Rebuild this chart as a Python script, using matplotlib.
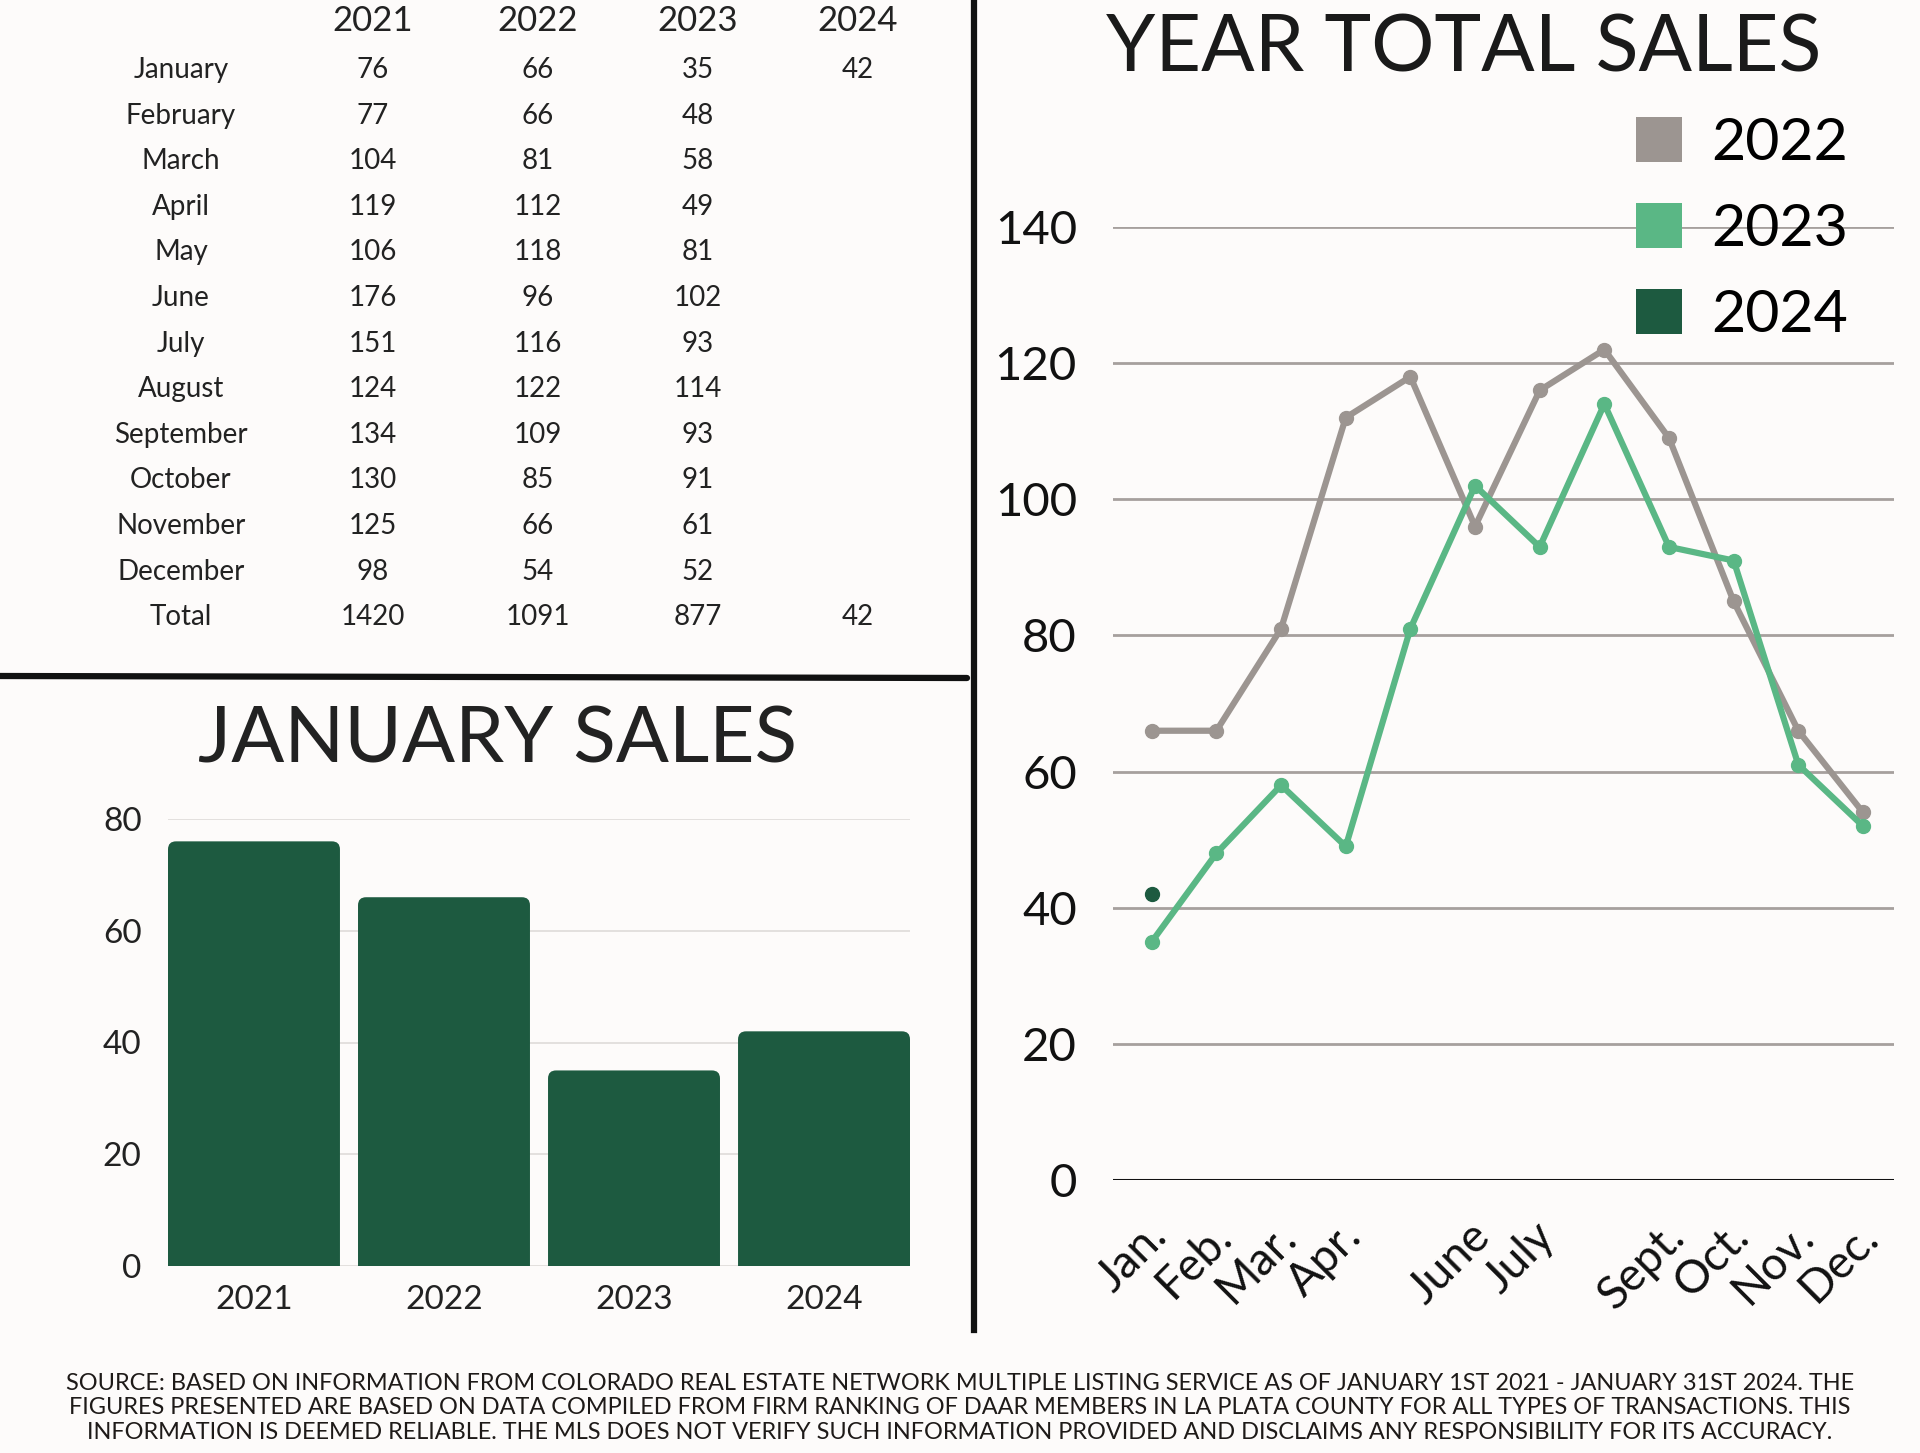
import numpy as np
import matplotlib.pyplot as plt
from matplotlib.lines import Line2D
from matplotlib.patches import Patch, FancyBboxPatch

plt.rcParams['font.family'] = ['Lato', 'DejaVu Sans']

months = ['January', 'February', 'March', 'April', 'May', 'June', 'July',
          'August', 'September', 'October', 'November', 'December']
years = ['2021', '2022', '2023', '2024']
sales_2021 = [76, 77, 104, 119, 106, 176, 151, 124, 134, 130, 125, 98]
sales_2022 = [66, 66, 81, 112, 118, 96, 116, 122, 109, 85, 66, 54]
sales_2023 = [35, 48, 58, 49, 81, 102, 93, 114, 93, 91, 61, 52]
sales_2024 = [42]
totals = [1420, 1091, 877, 42]
jan_sales = [76, 66, 35, 42]
short_months = ['Jan.', 'Feb.', 'Mar.', 'Apr.', '', 'June', 'July',
                '', 'Sept.', 'Oct.', 'Nov.', 'Dec.']

footer = ("SOURCE: BASED ON INFORMATION FROM COLORADO REAL ESTATE NETWORK MULTIPLE LISTING SERVICE AS OF JANUARY 1ST 2021 - JANUARY 31ST 2024. THE\n"
          "FIGURES PRESENTED ARE BASED ON DATA COMPILED FROM FIRM RANKING OF DAAR MEMBERS IN LA PLATA COUNTY FOR ALL TYPES OF TRANSACTIONS. THIS\n"
          "INFORMATION IS DEEMED RELIABLE. THE MLS DOES NOT VERIFY SUCH INFORMATION PROVIDED AND DISCLAIMS ANY RESPONSIBILITY FOR ITS ACCURACY.")

bg = '#fdfbfa'
gray = '#9c9591'
green = '#5ab785'
dark = '#1d5a40'

W, H = 1920, 1453
fig = plt.figure(figsize=(19.2, 14.53), dpi=100, facecolor=bg)

def fx(px):
    return px / W

def fy(py):
    return 1 - py / H

# table
col_x = [373, 538, 698, 858]
for yr, cx in zip(years, col_x):
    fig.text(fx(cx), fy(21), yr, ha='center', va='center', fontsize=25, color='#222')
cols = [sales_2021, sales_2022, sales_2023, sales_2024]
row_labels = months + ['Total']
for i, lab in enumerate(row_labels):
    ry = 70 + i * 45.6
    fig.text(fx(181), fy(ry), lab, ha='center', va='center', fontsize=20, color='#222')
    for j, cx in enumerate(col_x):
        if i < 12:
            if i < len(cols[j]):
                fig.text(fx(cx), fy(ry), str(cols[j][i]), ha='center', va='center',
                         fontsize=20, color='#222')
        else:
            fig.text(fx(cx), fy(ry), str(totals[j]), ha='center', va='center',
                     fontsize=20, color='#222')

# dividers
fig.add_artist(Line2D([fx(974), fx(974)], [1, fy(1330)], color='#111', lw=4.5))
fig.add_artist(Line2D([0, fx(967)], [fy(676), fy(678)], color='#111', lw=4.5,
                      solid_capstyle='round'))

# january bar chart
fig.text(fx(498), fy(741), 'JANUARY SALES', ha='center', va='center', fontsize=56.5, color='#222')
ax1 = fig.add_axes([fx(168), fy(1266), fx(910 - 168), (1266 - 819) / H])
ax1.set_facecolor(bg)
x = np.arange(len(years))
bars = ax1.bar(x, jan_sales, width=0.905, color=dark, zorder=3)
ax1.set_xlim(-0.4525, 3.4525)
ax1.set_ylim(0, 80)
# rounded tops like the original
xpp = 3.905 / (910 - 168)
ypp = 80 / (1266 - 819)
for b in bars:
    b.set_visible(False)
    ax1.add_patch(FancyBboxPatch((b.get_x(), -10 * ypp), b.get_width(), b.get_height() + 10 * ypp,
                                 boxstyle='round,pad=0,rounding_size=%f' % (8 * xpp),
                                 mutation_aspect=ypp / xpp, facecolor=dark, edgecolor='none',
                                 zorder=3, clip_on=True))
ax1.set_yticks([0, 20, 40, 60, 80])
ax1.set_xticks(x)
ax1.set_xticklabels(years)
ax1.yaxis.grid(True, color='#dedbd9', lw=1.2, zorder=0)
for s in ax1.spines.values():
    s.set_visible(False)
ax1.tick_params(axis='both', length=0, labelsize=24, colors='#222')
ax1.tick_params(axis='y', pad=19)
ax1.tick_params(axis='x', pad=14)

# year total line chart
fig.text(fx(1464), fy(49), 'YEAR TOTAL SALES', ha='center', va='center', fontsize=57, color='#1a1a1a')
ax2 = fig.add_axes([fx(1113), fy(1180), fx(1894 - 1113), (1180 - 227) / H])
ax2.set_facecolor(bg)
m = np.arange(12)
ax2.plot(m, sales_2022, color=gray, lw=4.5, marker='o', ms=10, zorder=3, label='2022')
ax2.plot(m, sales_2023, color=green, lw=4.5, marker='o', ms=10, zorder=4, label='2023')
ax2.plot(m[:len(sales_2024)], sales_2024, color=dark, lw=4.5, marker='o', ms=10, zorder=5, label='2024')
ax2.set_xlim(-0.6, 11.48)
ax2.set_ylim(0, 140)
ax2.set_yticks(np.arange(0, 141, 20))
ax2.yaxis.grid(True, color='#a6a09d', lw=2, zorder=0)
# labels sit a little left of each month
ax2.set_xticks(m - 0.1)
ax2.set_xticklabels(short_months, rotation=45, ha='right', va='top', rotation_mode='anchor')
for s in ax2.spines.values():
    s.set_visible(False)
ax2.axhline(0, color='#111', lw=2.2, zorder=2)
ax2.tick_params(axis='both', length=0, colors='#111')
ax2.tick_params(axis='y', labelsize=34, pad=26)
ax2.tick_params(axis='x', labelsize=33, pad=25)

handles = [Patch(facecolor=c, edgecolor='none', label=l)
           for c, l in zip([gray, green, dark], ['2022', '2023', '2024'])]
ax2.legend(handles=handles, loc='upper left', bbox_to_anchor=(fx(1636), fy(117)),
           bbox_transform=fig.transFigure, frameon=False, fontsize=42.5,
           borderaxespad=0, borderpad=0,
           handlelength=0.78, handleheight=0.78, handletextpad=0.5, labelspacing=0.56)

# footer
fig.text(0.5, fy(1408), footer, ha='center', va='center', fontsize=16.9,
         color='#1e1a18', linespacing=1.18)

fig.savefig('out.png', dpi=100, facecolor=bg)
